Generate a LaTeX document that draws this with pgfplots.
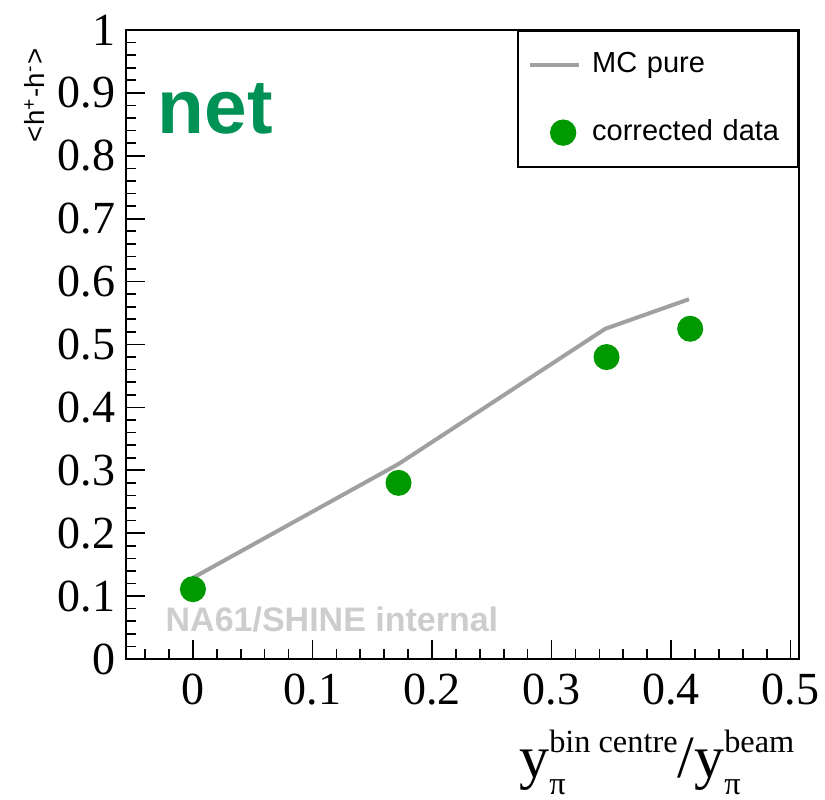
\documentclass[border=0pt]{standalone}
\usepackage{pgfplots}
\pgfplotsset{compat=1.18}
\usepackage{fontspec}
\setmainfont{Liberation Serif}
\setsansfont{Liberation Sans}
\definecolor{mcgray}{RGB}{160,160,160}
\definecolor{datagreen}{RGB}{0,153,0}
\definecolor{netgreen}{RGB}{0,145,85}
\definecolor{wmgray}{RGB}{205,205,205}
\newcommand\supsub[2]{\makebox[0pt][l]{\raisebox{-5.1pt}{\fontsize{9.7}{10}\selectfont #2}}\raisebox{7.5pt}{\fontsize{9.7}{10}\selectfont #1}}
\pgfplotsset{
  mcleg/.style={legend image code/.code={\draw[##1] (0pt,0pt) -- (14.7pt,0pt);}},
  dataleg/.style={legend image code/.code={\path (0pt,0pt) (14.7pt,0pt); \draw[##1] plot coordinates {(9.9pt,0pt)};}},
}
\begin{document}
\begin{tikzpicture}
\begin{axis}[
  at={(0,0)}, anchor=south west,
  scale only axis, width=201.9pt, height=188.7pt,
  xmin=-0.056, xmax=0.507, ymin=0, ymax=1,
  xtick={0,0.1,0.2,0.3,0.4,0.5},
  ytick={0,0.1,0.2,0.3,0.4,0.5,0.6,0.7,0.8,0.9,1},
  minor xtick={-0.04,-0.02,0.02,0.04,0.06,0.08,0.12,0.14,0.16,0.18,0.22,0.24,0.26,0.28,0.32,0.34,0.36,0.38,0.42,0.44,0.46,0.48},
  minor y tick num=4,
  tick align=inside, tick pos=left,
  major tick length=5.7pt, minor tick length=3pt,
  every tick/.style={black, line width=0.5pt},
  axis line style={line width=0.7pt},
  ticklabel style={font=\fontsize{13.8}{16}\selectfont},
  /pgf/number format/assume math mode=true,
  /pgf/number format/fixed,
  /pgf/number format/precision=1,
  xticklabel style={inner sep=0pt, yshift=-4.2pt},
  yticklabel style={inner sep=0pt, xshift=-3pt},
  clip=false,
  legend style={at={(rel axis cs:1,1)}, anchor=north east, draw=black, line width=0.5pt, fill=white,
    font=\sffamily\fontsize{8.7}{10}\selectfont, inner xsep=3pt, inner ysep=6.2pt,
    row sep=12.2pt, column sep=3.3pt, cells={anchor=west},
    nodes={inner sep=0pt, text width=58.8pt, text height=6.3pt, text depth=1.8pt}},
]
\addplot[mcgray, line width=1.2pt, mcleg]
  coordinates {(0,0.129) (0.172,0.31) (0.345,0.525) (0.415,0.572)};
\addlegendentry{MC pure}
\addplot[only marks, mark=*, mark size=3.7pt, mark options={draw=datagreen, fill=datagreen}, dataleg]
  coordinates {(0,0.111) (0.172,0.280) (0.346,0.480) (0.416,0.525)};
\addlegendentry{corrected data}
\node[anchor=base west, inner sep=0pt, text=netgreen, font=\sffamily\bfseries\fontsize{23}{25}\selectfont]
  at (rel axis cs:0.046,0.835) {net};
\node[anchor=base west, inner sep=0pt, text=wmgray, font=\sffamily\bfseries\fontsize{10.2}{12}\selectfont]
  at (rel axis cs:0.058,0.043) {NA61/SHINE internal};
\node[rotate=90, anchor=base east, inner sep=0pt, font=\sffamily\fontsize{8.3}{10}\selectfont]
  at ([xshift=-24.3pt, yshift=-5.4pt]rel axis cs:0,1) {<h\textsuperscript{+}-h\textsuperscript{-}>};
\node[anchor=base east, inner sep=0pt, font=\fontsize{18}{20}\selectfont]
  at ([xshift=-1.2pt, yshift=-35.7pt]rel axis cs:1,0) {y\supsub{bin centre}{π}/y\supsub{beam}{π}};
\end{axis}
\pgfresetboundingbox
\path[use as bounding box] (-37.8pt,-42.3pt) rectangle (209.7pt,197.7pt);
\end{tikzpicture}
\end{document}
